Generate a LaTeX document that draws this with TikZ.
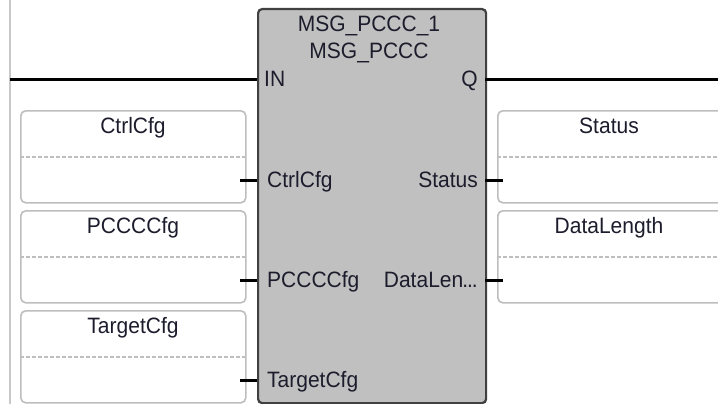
\documentclass[tikz,border=0pt]{standalone}
\usepackage{fontspec}
\usepackage{graphicx}
\setmainfont{Liberation Sans}
\newcommand{\tallt}[1]{\scalebox{1}[1.06]{#1}}
\begin{document}
\begin{tikzpicture}[x=1pt,y=-1pt,
  txt/.style={inner sep=0pt, text=txtcol, font=\fontsize{21}{23}\selectfont},
  fbox/.style={draw=blkborder, line width=2.2pt, fill=blkfill, rounded corners=4pt, minimum width=228pt, minimum height=394pt, anchor=north west, inner sep=0pt},
  varbox/.style={draw=boxborder, line width=1.6pt, fill=white, rounded corners=5pt, minimum width=225pt, minimum height=92pt, anchor=north west, inner sep=0pt},
  sepline/.style={draw=boxborder, line width=1.6pt, dash pattern=on 4pt off 2pt},
  rail/.style={draw=black, line width=3pt},
  stub/.style={draw=black, line width=3pt}]
\definecolor{txtcol}{HTML}{1C1C2C}
\definecolor{blkfill}{HTML}{C0C0C0}
\definecolor{blkborder}{HTML}{404040}
\definecolor{boxborder}{HTML}{BEBEBE}
\definecolor{leftline}{HTML}{C8C8C8}
\useasboundingbox (0,0) rectangle (718,404);
\fill[white] (0,0) rectangle (718,404);
% left vertical guide line
\coordinate (lt) at (10,0);
\coordinate (lb) at (10,404);
\draw[leftline, line width=1.2pt] (lt) -- (lb);
% function block
\node[fbox] (blk) at (257,8) {};
\node[txt, anchor=base] (title1) at (369,32) {\tallt{MSG\_PCCC\_1}};
\node[txt, anchor=base] (title2) at (369,59) {\tallt{MSG\_PCCC}};
% rail
\coordinate (railL) at (10,80);
\coordinate (railR) at (718,80);
\coordinate (inpin) at (257,80);
\coordinate (qpin) at (485,80);
\draw[rail] (railL) -- (inpin);
\draw[rail] (qpin) -- (railR);
\node[txt, anchor=base west] (inlab) at (264,87) {\tallt{IN}};
\node[txt, anchor=base east] (qlab) at (478,87) {\tallt{Q}};
% left variable boxes
\foreach \n/\y/\lab in {a/110/CtrlCfg, b/210/PCCCCfg, c/310/TargetCfg}{
  \node[varbox] (box\n) at (20,\y) {};
  \node[txt, anchor=base] (boxlab\n) at (133,\y+23) {\tallt{\lab}};
  \draw[sepline] ([yshift=-47pt]box\n.north west) -- ([yshift=-47pt]box\n.north east);
  \coordinate (ls\n) at (240,\y+70);
  \coordinate (le\n) at (257,\y+70);
  \draw[stub] (ls\n) -- (le\n);
  \node[txt, anchor=base west] (pin\n) at (267,\y+77) {\tallt{\lab}};
}
% right variable boxes
\foreach \n/\y/\lab/\pl in {d/110/Status/Status, e/210/DataLength/{DataLen\kern-1pt.\kern-1pt.\kern-1pt.}}{
  \node[varbox] (box\n) at (497,\y) {};
  \node[txt, anchor=base] (boxlab\n) at (609,\y+23) {\tallt{\lab}};
  \draw[sepline] ([yshift=-47pt]box\n.north west) -- ([yshift=-47pt]box\n.north east);
  \coordinate (rs\n) at (485,\y+70);
  \coordinate (re\n) at (503,\y+70);
  \draw[stub] (rs\n) -- (re\n);
  \node[txt, anchor=base east] (pin\n) at (478,\y+77) {\tallt{\pl}};
}
\end{tikzpicture}
\end{document}
